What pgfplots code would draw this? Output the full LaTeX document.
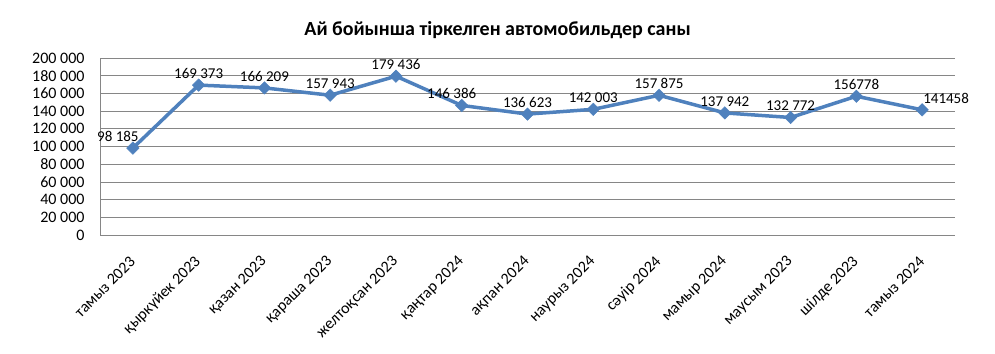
\documentclass[border=0pt]{standalone}
\usepackage{pgfplots}
\pgfplotsset{compat=1.18}
\usepackage{fontspec}
\setmainfont{Carlito}
\definecolor{linec}{RGB}{79,129,189}
\definecolor{gridc}{RGB}{134,134,134}
\begin{document}
\begin{tikzpicture}
\path[use as bounding box] (0,0) rectangle (995bp,354bp);
\begin{axis}[
  at={(100bp,119bp)}, anchor=south west,
  scale only axis, width=855bp, height=177bp,
  xmin=-0.5, xmax=12.5, ymin=0, ymax=200000,
  xtick={0,...,12},
  xticklabels={тамыз 2023,қыркүйек 2023,қазан 2023,қараша 2023,желтоқсан 2023,қаңтар 2024,ақпан 2024,наурыз 2024,сәуір 2024,мамыр 2024,маусым 2023,шілде 2023,тамыз 2024},
  ytick={0,20000,...,200000},
  yticklabels={0,20 000,40 000,60 000,80 000,100 000,120 000,140 000,160 000,180 000,200 000},
  scaled y ticks=false,
  axis lines=left,
  axis line style={-, gridc, line width=0.8bp},
  ymajorgrids, grid style={gridc, line width=0.8bp},
  major tick length=0pt,
  yticklabel style={font=\fontsize{16bp}{16bp}\selectfont, anchor=east, xshift=-12bp},
  xticklabel style={font=\fontsize{16bp}{16bp}\selectfont, rotate=45, anchor=east, yshift=-17bp, xshift=-14bp},
  title={Ай бойынша тіркелген автомобильдер саны},
  title style={font=\fontsize{20bp}{20bp}\selectfont\bfseries, at={(0.465,1)}, anchor=base, yshift=17bp},
  clip=false,
]
\addplot[linec, line width=3.5bp, mark=square*, mark size=4.4bp, mark options={rotate=45, fill=linec, draw=linec, line width=0.5bp}]
 coordinates {(0,98185) (1,169373) (2,166209) (3,157943) (4,179436) (5,146386) (6,136623) (7,142003) (8,157875) (9,137942) (10,132772) (11,156778) (12,141458)};
\addplot[draw=none, mark=none, point meta=explicit symbolic, nodes near coords,
  every node near coord/.append style={font=\fontsize{15bp}{15bp}\selectfont, black, anchor=south, yshift=3bp}]
 coordinates {(1,169373) [169 373] (2,166209) [166 209] (3,157943) [157 943] (4,179436) [179 436] (6,136623) [136 623] (7,142003) [142 003] (8,157875) [157 875] (9,137942) [137 942] (10,132772) [132 772] (11,156778) [156778]};
\addplot[draw=none, mark=none, point meta=explicit symbolic, nodes near coords,
  every node near coord/.append style={font=\fontsize{15bp}{15bp}\selectfont, black, anchor=south, yshift=3bp, xshift=-15bp}]
 coordinates {(0,98185) [98 185]};
\addplot[draw=none, mark=none, point meta=explicit symbolic, nodes near coords,
  every node near coord/.append style={font=\fontsize{15bp}{15bp}\selectfont, black, anchor=south, yshift=3bp, xshift=-10bp}]
 coordinates {(5,146386) [146 386]};
\addplot[draw=none, mark=none, point meta=explicit symbolic, nodes near coords,
  every node near coord/.append style={font=\fontsize{15bp}{15bp}\selectfont, black, anchor=south, yshift=3bp, xshift=24bp}]
 coordinates {(12,141458) [141458]};
\end{axis}
\end{tikzpicture}
\end{document}
